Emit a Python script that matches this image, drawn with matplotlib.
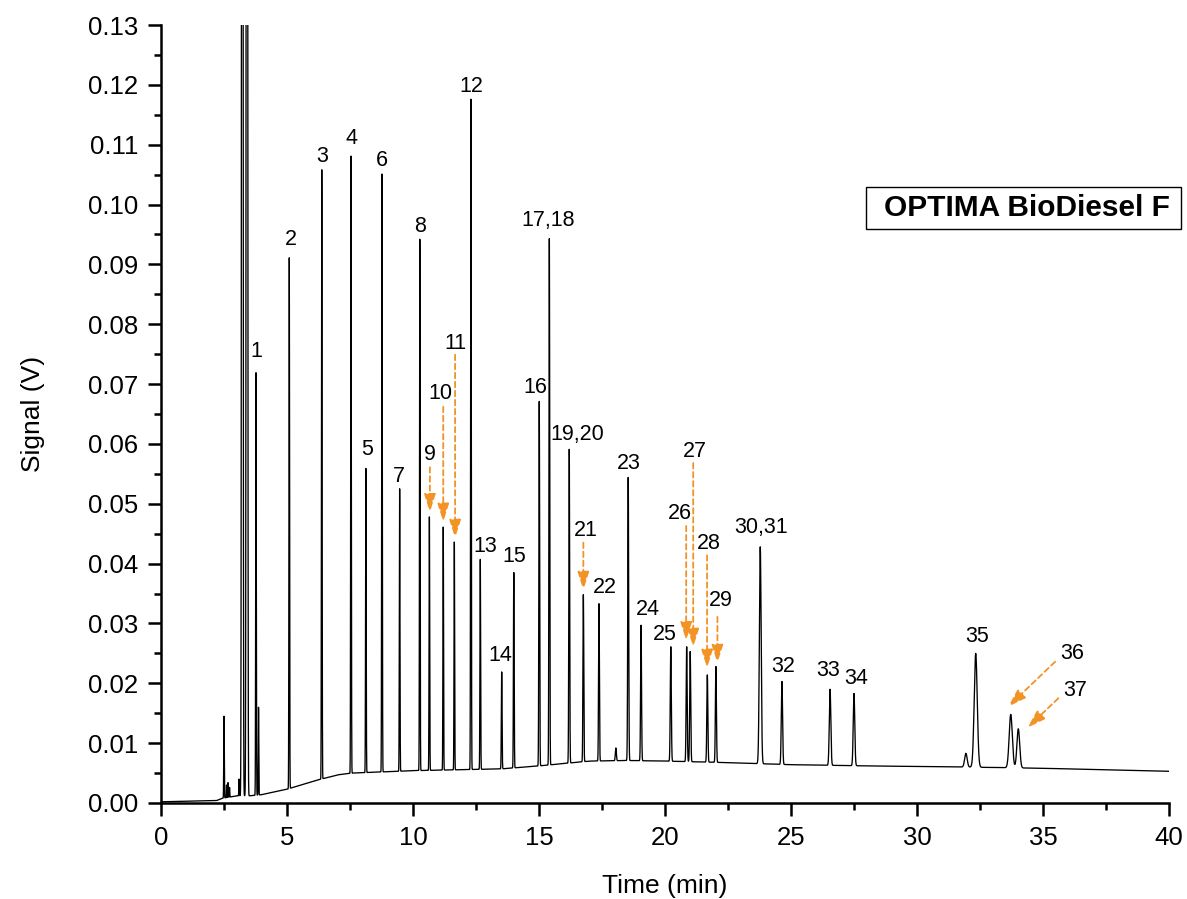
import numpy as np
import matplotlib
matplotlib.use('Agg')
import matplotlib.pyplot as plt
from matplotlib.ticker import MultipleLocator, FormatStrFormatter
from matplotlib.patches import Rectangle

plt.rcParams['font.family'] = ['Liberation Sans', 'DejaVu Sans']

# ---------------- data ----------------
# labelled peaks: name, retention time (min), apex signal (V), peak sigma (min)
peak_names = ['1', '2', '3', '4', '5', '6', '7', '8', '9', '10', '11', '12', '13',
              '14', '15', '16', '17,18', '19,20', '21', '22', '23', '24', '25', '26',
              '27', '28', '29', '30,31', '32', '33', '34', '35', '36', '37']
peak_times = [3.77, 5.09, 6.38, 7.54, 8.13, 8.77, 9.47, 10.27, 10.65, 11.20, 11.64,
              12.30, 12.67, 13.52, 14.00, 15.01, 15.41, 16.20, 16.76, 17.38, 18.54,
              19.05, 20.23, 20.86, 21.00, 21.68, 22.02, 23.78, 24.64, 26.55, 27.50,
              32.33, 33.72, 34.02]
peak_tops = [0.0719, 0.0911, 0.1058, 0.1081, 0.0559, 0.1051, 0.0525, 0.0942, 0.0478,
             0.0461, 0.0436, 0.1176, 0.0407, 0.0219, 0.0385, 0.0671, 0.0943, 0.0591,
             0.0348, 0.0333, 0.0544, 0.0297, 0.0261, 0.0261, 0.0253, 0.0214, 0.0228,
             0.0428, 0.0203, 0.0190, 0.0183, 0.0250, 0.0148, 0.0124]
peak_sigma = [0.012, 0.012, 0.012, 0.012, 0.012, 0.012, 0.012, 0.012, 0.012, 0.012,
              0.012, 0.013, 0.013, 0.014, 0.014, 0.015, 0.015, 0.016, 0.016, 0.016,
              0.018, 0.018, 0.02, 0.02, 0.02, 0.02, 0.02, 0.035, 0.025, 0.03, 0.03,
              0.06, 0.062, 0.055]

# unlabelled peaks (incl. off-scale solvent peaks)
minor_times = [2.50, 2.60, 2.66, 2.72, 3.10, 3.226, 3.41, 3.87, 18.05, 31.94]
minor_tops = [0.0145, 0.0030, 0.0034, 0.0026, 0.0040, 0.60, 0.60, 0.0160, 0.0092, 0.0083]
minor_sigma = [0.010, 0.008, 0.008, 0.008, 0.010, 0.02, 0.02, 0.010, 0.02, 0.05]

# baseline level of the trace
baseline_t = [0.0, 2.2, 2.45, 3.0, 3.5, 4.0, 5.0, 6.0, 7.0, 7.6, 10.0, 13.5, 15.0,
              17.0, 18.5, 20.0, 22.0, 25.0, 28.0, 30.0, 32.0, 35.0, 38.0, 40.0]
baseline_v = [0.0002, 0.0004, 0.0008, 0.0012, 0.0012, 0.0014, 0.0023, 0.0036, 0.0047,
              0.0050, 0.0054, 0.0057, 0.0062, 0.0070, 0.0071, 0.0070, 0.0068, 0.0064,
              0.0062, 0.0061, 0.0060, 0.0058, 0.0055, 0.0053]

title_text = 'OPTIMA BioDiesel F'
x_label = 'Time (min)'
y_label = 'Signal (V)'

# ---------------- layout (label placement) ----------------
# plain labels: centre position in data coords
plain_label_pos = {
    '1': (3.80, 0.0754), '2': (5.15, 0.0941), '3': (6.38, 0.1080), '4': (7.55, 0.1111),
    '5': (8.19, 0.0591), '6': (8.78, 0.1073), '7': (9.44, 0.0546), '8': (10.28, 0.0963),
    '12': (12.30, 0.1198), '13': (12.85, 0.0428), '14': (13.45, 0.0247),
    '15': (14.01, 0.0412), '16': (14.84, 0.0695), '17,18': (15.37, 0.0974),
    '19,20': (16.50, 0.0615), '22': (17.62, 0.0360), '23': (18.57, 0.0568),
    '24': (19.31, 0.0324), '25': (20.00, 0.0282), '30,31': (23.81, 0.0460),
    '32': (24.69, 0.0228), '33': (26.48, 0.0222), '34': (27.58, 0.0208),
    '35': (32.37, 0.0279),
}
# arrow labels: label centre, arrow start, arrow tip
arrow_label_pos = {
    '9': ((10.67, 0.0583), (10.67, 0.0561), (10.67, 0.0486)),
    '10': ((11.10, 0.0684), (11.20, 0.0662), (11.20, 0.0470)),
    '11': ((11.69, 0.0768), (11.67, 0.0749), (11.67, 0.0443)),
    '21': ((16.85, 0.0455), (16.76, 0.0435), (16.76, 0.0356)),
    '26': ((20.60, 0.0484), (20.84, 0.0463), (20.84, 0.0272)),
    '27': ((21.19, 0.0587), (21.12, 0.0568), (21.12, 0.0261)),
    '28': ((21.75, 0.0434), (21.67, 0.0414), (21.67, 0.0226)),
    '29': ((22.21, 0.0339), (22.08, 0.0311), (22.08, 0.0234)),
    '36': ((36.14, 0.0250), (35.48, 0.0236), (33.62, 0.0161)),
    '37': ((36.27, 0.0188), (35.61, 0.0175), (34.39, 0.0126)),
}

# ---------------- build trace ----------------
t = np.linspace(0, 40, 20001)
base = np.interp(t, baseline_t, baseline_v)
signal = base.copy()
for tc, top, s in zip(peak_times + minor_times, peak_tops + minor_tops,
                      peak_sigma + minor_sigma):
    amp = top - np.interp(tc, baseline_t, baseline_v)
    signal += amp * np.exp(-0.5 * ((t - tc) / s) ** 2)

# ---------------- plot ----------------
W, H = 1187, 899
fig = plt.figure(figsize=(W / 100, H / 100), dpi=100)
ax = fig.add_axes([161 / W, (H - 803) / H, 1008 / W, 778 / H])

ax.plot(t, signal, color='black', lw=0.95)
ax.set_xlim(0, 40)
ax.set_ylim(0, 0.13)

for side in ('top', 'right'):
    ax.spines[side].set_visible(False)
for side in ('left', 'bottom'):
    ax.spines[side].set_linewidth(1.8)

ax.xaxis.set_major_locator(MultipleLocator(5))
ax.xaxis.set_minor_locator(MultipleLocator(2.5))
ax.yaxis.set_major_locator(MultipleLocator(0.01))
ax.yaxis.set_minor_locator(MultipleLocator(0.005))
ax.yaxis.set_major_formatter(FormatStrFormatter('%.2f'))
ax.tick_params(which='major', direction='out', length=9.5, width=1.8, labelsize=18.5, pad=7)
ax.tick_params(which='minor', direction='out', length=4.8, width=1.8)

ax.set_xlabel(x_label, fontsize=19, labelpad=17)
ax.set_ylabel(y_label, fontsize=19, labelpad=31)

label_fs = 15.5
for name in peak_names:
    if name in plain_label_pos:
        x, y = plain_label_pos[name]
        ax.text(x, y, name, ha='center', va='center', fontsize=label_fs, color='black')

orange = '#F39325'
for name, (lab, start, tip) in arrow_label_pos.items():
    ax.text(lab[0], lab[1], name, ha='center', va='center', fontsize=label_fs, color='black')
    ax.annotate('', xy=tip, xytext=start,
                arrowprops=dict(arrowstyle='-|>,head_length=1.1,head_width=0.35',
                                color=orange, lw=1.3, linestyle=(0, (3, 2)),
                                shrinkA=0, shrinkB=0))

# title box (frame drawn separately so its padding can differ per side)
ax.add_patch(Rectangle((0.6994, 0.7378), 0.3125, 0.0540, transform=ax.transAxes,
                       fc='white', ec='black', lw=1.0, clip_on=False, zorder=4))
ax.text(0.859, 0.7645, title_text, transform=ax.transAxes, ha='center', va='center',
        fontsize=21.5, fontweight='bold', zorder=5)

fig.savefig('out.png', dpi=100)
